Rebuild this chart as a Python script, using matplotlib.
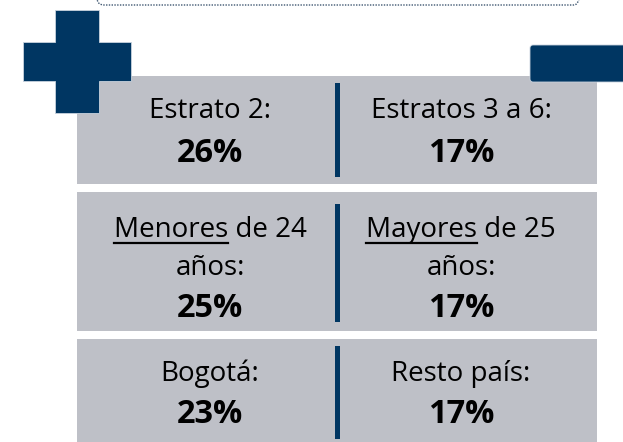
import matplotlib
matplotlib.use("Agg")
import matplotlib.pyplot as plt
from matplotlib.patches import Rectangle, FancyBboxPatch, Polygon
from matplotlib.lines import Line2D

# ---- data ----
left_labels = [["Estrato 2:"], ["Menores de 24", "años:"], ["Bogotá:"]]
right_labels = [["Estratos 3 a 6:"], ["Mayores de 25", "años:"], ["Resto país:"]]
left_values = ["26%", "25%", "23%"]
right_values = ["17%", "17%", "17%"]
underlined_words = {"Menores de 24": "Menores", "Mayores de 25": "Mayores"}

# ---- style ----
W, H = 623, 442
GRAY = "#BEC0C7"
NAVY = "#003662"
FONT = ["Open Sans", "DejaVu Sans"]
REG_SIZE = 20.0
BOLD_SIZE = 23.4

fig = plt.figure(figsize=(W / 100, H / 100), dpi=100)
ax = fig.add_axes([0, 0, 1, 1])
ax.set_xlim(0, W)
ax.set_ylim(H, 0)
ax.axis("off")

# top dotted rounded box (cut off at top)
ax.add_patch(FancyBboxPatch((97, -30), 484, 35, boxstyle="round,pad=0,rounding_size=7",
                            fill=False, ec="#3E5670", lw=1.0, ls=(0, (1, 1)), zorder=2))

# gray panels: (top, bottom)
panels = [(76, 184), (192, 331), (339, 450)]
dividers = [(83, 177), (204, 322), (346, 439)]
for (t, b) in panels:
    ax.add_patch(Rectangle((77, t), 520, b - t, fc=GRAY, ec="none", zorder=1))
for (t, b) in dividers:
    ax.add_patch(Rectangle((335, t), 5, b - t, fc=NAVY, ec="none", zorder=3))

# cross (single outline)
cross = [(55, 10), (99, 10), (99, 42), (131, 42), (131, 81), (99, 81), (99, 113),
         (55, 113), (55, 81), (23, 81), (23, 42), (55, 42)]
ax.add_patch(Polygon(cross, closed=True, fc=NAVY, ec="#C9D3DE", lw=0.6, zorder=4))

# right bar
ax.add_patch(FancyBboxPatch((530, 45), 110, 37, boxstyle="round,pad=0,rounding_size=3",
                            fc=NAVY, ec="#C9D3DE", lw=0.6, zorder=4))

# text baselines per panel
label_baselines = [[118], [237, 275], [381]]
value_baselines = [162, 317, 423]
col_centers = [210, 461]

fig.canvas.draw()
renderer = fig.canvas.get_renderer()
inv = ax.transData.inverted()

def draw_label(x, y, s):
    t = ax.text(x, y, s, ha="center", va="baseline", fontsize=REG_SIZE,
                family=FONT, color="black", zorder=6)
    if s in underlined_words:
        word = underlined_words[s]
        bb = t.get_window_extent(renderer)
        tmp = ax.text(0, 0, word, fontsize=REG_SIZE, family=FONT)
        wbb = tmp.get_window_extent(renderer)
        tmp.remove()
        x0 = inv.transform((bb.x0, 0))[0]
        x1 = inv.transform((bb.x0 + wbb.width, 0))[0]
        ax.add_line(Line2D([x0, x1], [y + 5.5, y + 5.5], color="black", lw=1.6, zorder=6))

for i in range(3):
    for c, labels, vals in ((0, left_labels, left_values), (1, right_labels, right_values)):
        for s, yb in zip(labels[i], label_baselines[i]):
            draw_label(col_centers[c], yb, s)
        ax.text(col_centers[c], value_baselines[i], vals[i], ha="center", va="baseline",
                fontsize=BOLD_SIZE, fontweight="bold", family=FONT, color="black", zorder=6)

fig.savefig("out.png", dpi=100)
